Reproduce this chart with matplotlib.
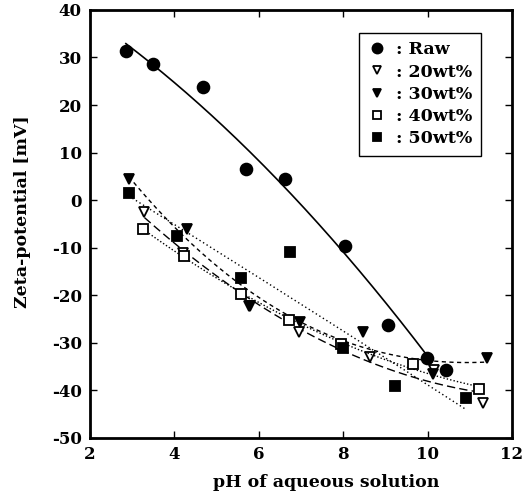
import numpy as np
import matplotlib
matplotlib.use("Agg")
import matplotlib.pyplot as plt

plt.rcParams['font.family'] = ['DejaVu Serif']
plt.rcParams['font.weight'] = 'bold'
plt.rcParams['axes.unicode_minus'] = False

# data
ph_raw = [2.85, 3.49, 4.68, 5.70, 6.62, 8.04, 9.06, 9.99, 10.44]
zp_raw = [31.4, 28.7, 23.8, 6.6, 4.5, -9.6, -26.2, -33.1, -35.8]

ph_20 = [3.29, 4.20, 5.77, 6.96, 8.64, 10.15, 11.31]
zp_20 = [-2.4, -11.1, -22.3, -27.7, -33.0, -35.8, -42.6]

ph_30 = [2.92, 4.31, 5.79, 6.98, 8.46, 10.14, 11.40]
zp_30 = [4.4, -6.1, -22.2, -25.7, -27.7, -36.5, -33.2]

ph_40 = [3.26, 4.23, 5.59, 6.72, 7.96, 9.66, 11.23]
zp_40 = [-6.1, -11.8, -19.7, -25.3, -30.2, -34.4, -39.8]

ph_50 = [2.92, 4.07, 5.58, 6.74, 8.00, 9.23, 10.91]
zp_50 = [1.5, -7.5, -16.4, -10.9, -31.1, -39.0, -41.6]

series = [
    (ph_raw, zp_raw, ': Raw', 'o', 'black', 2, '-'),
    (ph_20, zp_20, ': 20wt%', 'v', 'white', 2, (0, (6, 3))),
    (ph_30, zp_30, ': 30wt%', 'v', 'black', 3, (0, (3, 2.5))),
    (ph_40, zp_40, ': 40wt%', 's', 'white', 2, (0, (1, 1.5))),
    (ph_50, zp_50, ': 50wt%', 's', 'black', 2, (0, (1, 2))),
]
raw_fit_end = 10.0

fig = plt.figure(figsize=(5.31, 4.97), dpi=100)
ax = fig.add_axes([0.1695, 0.119, 0.7945, 0.861])

for x, y, lab, m, fc, deg, ls in series:
    x = np.array(x)
    y = np.array(y)
    coef = np.polyfit(x, y, deg)
    x_end = raw_fit_end if m == 'o' else x.max()
    xs = np.linspace(x.min(), x_end, 200)
    ax.plot(xs, np.polyval(coef, xs), color='black', lw=1.2 if m == 'o' else 1.0,
            linestyle=ls)
    ms = 8.5 if m == 'o' else (7.5 if m == 'v' else 6.8)
    ax.plot(x, y, linestyle='none', marker=m, markersize=ms,
            markerfacecolor=fc, markeredgecolor='black', markeredgewidth=1.3,
            label=lab)

ax.set_xlim(2, 12)
ax.set_ylim(-50, 40)
ax.set_xticks([2, 4, 6, 8, 10, 12])
ax.set_yticks(range(-50, 41, 10))
ax.tick_params(direction='in', top=True, right=True, length=5, width=1,
               labelsize=12, pad=6)
for s in ax.spines.values():
    s.set_linewidth(2)

ax.set_xlabel('pH of aqueous solution', fontsize=12.5, fontweight='bold')
ax.set_ylabel('Zeta-potential [mV]', fontsize=12.5, fontweight='bold')
ax.xaxis.set_label_coords(0.56, -0.085)
ax.yaxis.set_label_coords(-0.14, 0.528)

leg = ax.legend(loc='upper right', bbox_to_anchor=(0.9265, 0.947), borderaxespad=0,
                fancybox=False, edgecolor='black', framealpha=1, fontsize=12.5,
                handlelength=1.0, handletextpad=0.6, labelspacing=0.3,
                borderpad=0.5, markerscale=0.85)
leg.get_frame().set_linewidth(1)

fig.savefig('out.png', dpi=100)
